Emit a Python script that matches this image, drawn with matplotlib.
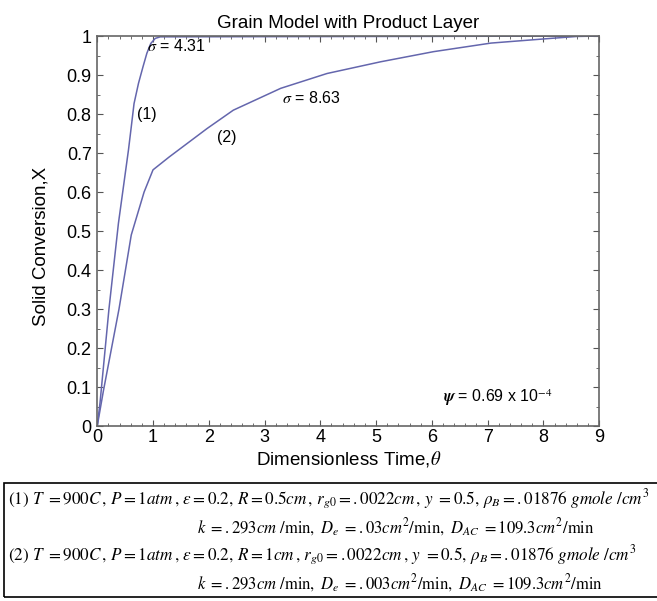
"""
Grain model with product layer: solid conversion vs dimensionless time
for two particle sizes (sigma = 4.31 and 8.63).
"""

import matplotlib
matplotlib.use("Agg")
import matplotlib.pyplot as plt
from matplotlib.ticker import MultipleLocator, FormatStrFormatter
from matplotlib.patches import Rectangle

# ── data ────────────────────────────────────────────────────────────────
theta_1 = [0.0, 0.05, 0.21, 0.38, 0.47, 0.56, 0.61, 0.66, 0.74, 0.82, 0.89,
           0.96, 1.04, 1.13, 9.0]
conv_1  = [0.0, 0.06, 0.30, 0.52, 0.614, 0.708, 0.767, 0.827, 0.879, 0.921, 0.956,
           0.981, 0.994, 0.998, 1.0]

theta_2 = [0.0, 0.11, 0.39, 0.61, 0.84, 1.0, 1.29, 1.97, 2.44, 3.29, 4.12,
           5.08, 6.03, 7.06, 8.13, 8.6, 9.0]
conv_2  = [0.0, 0.09, 0.30, 0.49, 0.60, 0.657, 0.69, 0.763, 0.81, 0.866, 0.904,
           0.934, 0.96, 0.982, 0.994, 0.999, 1.0]

x_ticks = list(range(0, 10))
y_ticks = [0.0, 0.1, 0.2, 0.3, 0.4, 0.5, 0.6, 0.7, 0.8, 0.9, 1.0]

LINE_COLOR = "#6466ad"

# ── style ───────────────────────────────────────────────────────────────
plt.rcParams.update({
    "font.family": ["Liberation Sans", "DejaVu Sans"],
    "mathtext.fontset": "stix",
})

fig = plt.figure(figsize=(6.57, 6.01), dpi=100)
ax = fig.add_axes([0.148, 0.291, 0.764, 0.649])

ax.plot(theta_1, conv_1, color=LINE_COLOR, lw=1.1)
ax.plot(theta_2, conv_2, color=LINE_COLOR, lw=1.1)

ax.set_xlim(0, 9)
ax.set_ylim(0, 1)
ax.set_xticks(x_ticks)
ax.set_yticks(y_ticks)
ax.yaxis.set_major_formatter(FormatStrFormatter("%g"))
ax.xaxis.set_minor_locator(MultipleLocator(0.2))
ax.yaxis.set_minor_locator(MultipleLocator(0.05))
ax.tick_params(which="both", direction="in", top=True, right=True,
               color="#555555", labelsize=13)
ax.tick_params(axis="x", pad=2)
ax.tick_params(axis="y", pad=4)
ax.tick_params(which="major", length=4.5)
ax.tick_params(which="minor", length=2)
for sp in ax.spines.values():
    sp.set_color("#666666")
    sp.set_linewidth(1.2)

ax.set_title("Grain Model with Product Layer", fontsize=13.5, pad=6)
ax.set_xlabel(r"Dimensionless Time,$\theta$", fontsize=13.5, labelpad=2)
ax.set_ylabel("Solid Conversion,X", fontsize=13.5)
ax.yaxis.set_label_coords(-0.095, 0.46)

# ── annotations ─────────────────────────────────────────────────────────
ann_kw = dict(fontsize=11.5, va="center")
ax.text(0.9, 0.975, r"$\sigma$ = 4.31", **ann_kw)
ax.text(0.72, 0.80, "(1)", **ann_kw)
ax.text(2.15, 0.74, "(2)", **ann_kw)
ax.text(3.32, 0.841, r"$\sigma$ = 8.63", **ann_kw)
ax.text(6.2, 0.072, r"$\boldsymbol{\psi}$ = 0.69 x 10$^{-4}$", **ann_kw)

# ── parameter box below the plot ────────────────────────────────────────
fig.patches.append(Rectangle((4 / 657, 1 - 597 / 601), 660 / 657, 114 / 601,
                             transform=fig.transFigure, fill=False,
                             edgecolor="black", lw=1.2))

row_1a = (r"(1) $T\ = 900C\,,\, P = 1atm\,,\, \varepsilon = 0.2,\, R = 0.5cm\,,\, r_{g0} = .0022cm\,,"
          r"\, y\ = 0.5,\, \rho_B = .01876\ gmole\ /cm^3$")
row_1b = r"$k\ = .293cm\ /\min,\ D_e\ = .03cm^2/\min,\ D_{AC}\ = 109.3cm^2/\min$"
row_2a = (r"(2) $T\ = 900C\,,\, P = 1atm\,,\, \varepsilon = 0.2,\, R = 1cm\,,\, r_{g0} = .0022cm\,,"
          r"\, y\ = 0.5,\, \rho_B = .01876\ gmole\ /cm^3$")
row_2b = r"$k\ = .293cm\ /\min,\ D_e\ = .003cm^2/\min,\ D_{AC}\ = 109.3cm^2/\min$"

fig.text(8 / 657, 1 - 499 / 601, row_1a, fontsize=12.3, family="STIXGeneral", va="center")
fig.text(197 / 657, 1 - 527 / 601, row_1b, fontsize=12, family="STIXGeneral", va="center")
fig.text(8 / 657, 1 - 555 / 601, row_2a, fontsize=12.3, family="STIXGeneral", va="center")
fig.text(197 / 657, 1 - 583 / 601, row_2b, fontsize=12, family="STIXGeneral", va="center")

fig.savefig("out.png", dpi=100)
plt.close(fig)
